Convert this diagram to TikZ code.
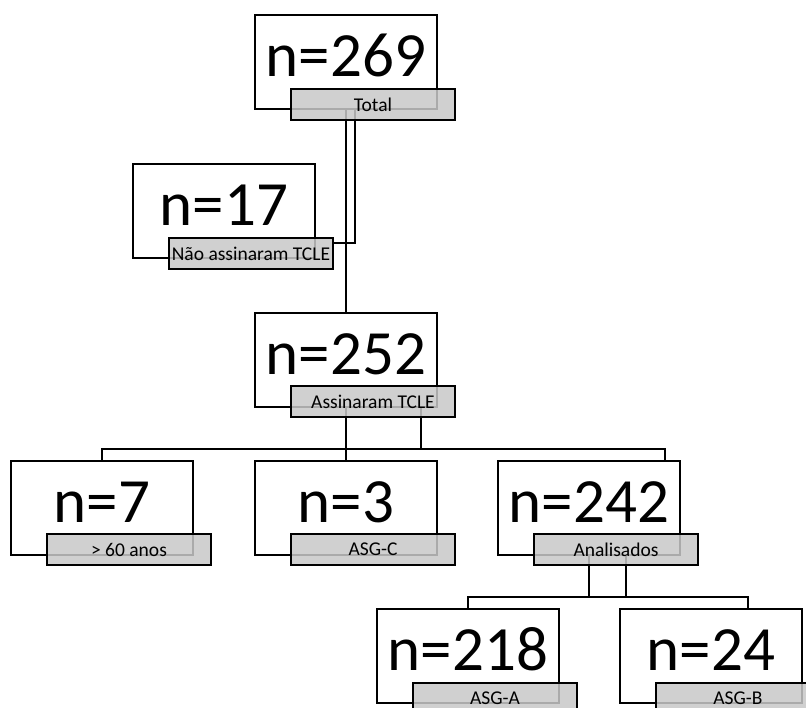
\documentclass[tikz,border=0pt]{standalone}
\usepackage{fontspec}
\setmainfont{Carlito}
\usetikzlibrary{calc}
\definecolor{labgray}{RGB}{200,200,200}
\begin{document}
\begin{tikzpicture}[x=1pt,y=-1pt,
  line width=1.8pt,
  bigbox/.style={draw=black, fill=white, anchor=north west, minimum width=182pt, minimum height=94pt, inner sep=0pt, outer sep=0pt},
  bigtxt/.style={anchor=base, inner sep=0pt, font=\fontsize{63}{70}\selectfont},
  labbox/.style={draw=black, fill=labgray, fill opacity=0.85, draw opacity=1, text opacity=1, anchor=north west, minimum width=164pt, minimum height=31pt, inner sep=0pt, outer sep=0pt, font=\fontsize{19.5}{22}\selectfont},
  conn/.style={draw=black, line width=1.8pt}
]
\clip (0,0) rectangle (806,707);
\fill[white] (0,0) rectangle (806,707);

% boxes
\node[bigbox] (b269) at (255,15) {};
\node[bigbox] (b17)  at (133,164) {};
\node[bigbox] (b252) at (255,313) {};
\node[bigbox] (b7)   at (11,461) {};
\node[bigbox] (b3)   at (255,461) {};
\node[bigbox] (b242) at (498,461) {};
\node[bigbox] (b218) at (377,609) {};
\node[bigbox] (b24)  at (620,609) {};

% big texts
\node[bigtxt] (t269) at ($(b269.north)+(0,61)$) {n=269};
\node[bigtxt] (t17)  at ($(b17.north)+(0,61)$) {n=17};
\node[bigtxt] (t252) at ($(b252.north)+(0,61)$) {n=252};
\node[bigtxt] (t7)   at ($(b7.north)+(0,61)$) {n=7};
\node[bigtxt] (t3)   at ($(b3.north)+(0,61)$) {n=3};
\node[bigtxt] (t242) at ($(b242.north)+(0,61)$) {n=242};
\node[bigtxt] (t218) at ($(b218.north)+(0,61)$) {n=218};
\node[bigtxt] (t24)  at ($(b24.north)+(0,61)$) {n=24};

% connectors
\coordinate (bus1r) at (665,449);
\coordinate (bus2r) at (748,597);
\draw[conn] (b269.south) -- (b252.north);
\draw[conn] ($(b269.south)+(9,0)$) |- ($(b17.north west)+(200,79)$);
\draw[conn] (b252.south) -- (b3.north);
\draw[conn] ($(b252.south)+(75,0)$) -- ($(b252.south)+(75,42)$);
\draw[conn] (b7.north) |- (bus1r) -- (bus1r |- b242.north);
\draw[conn] (b242.south) -- ($(b242.south)+(0,42)$);
\draw[conn] ($(b242.south)+(37,0)$) -- ($(b242.south)+(37,42)$);
\draw[conn] (b218.north) |- (bus2r) -- (bus2r |- b24.north);

% labels
\node[labbox] (l269) at ($(b269.north west)+(36,74)$) {Total};
\node[labbox] (l17)  at ($(b17.north west)+(36,74)$) {Não assinaram TCLE};
\node[labbox] (l252) at ($(b252.north west)+(36,73)$) {Assinaram TCLE};
\node[labbox] (l7)   at ($(b7.north west)+(36,73)$) {> 60 anos};
\node[labbox] (l3)   at ($(b3.north west)+(36,73)$) {ASG-C};
\node[labbox] (l242) at ($(b242.north west)+(36,73)$) {Analisados};
\node[labbox] (l218) at ($(b218.north west)+(36,74)$) {ASG-A};
\node[labbox] (l24)  at ($(b24.north west)+(36,74)$) {ASG-B};
\end{tikzpicture}
\end{document}
